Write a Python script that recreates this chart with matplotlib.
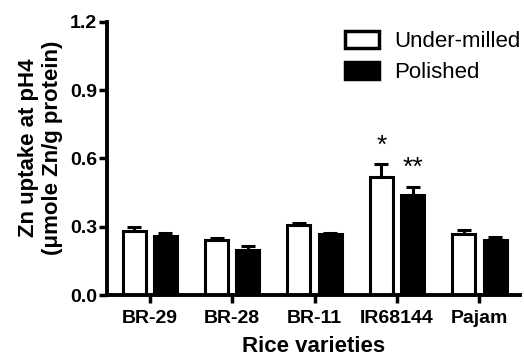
import matplotlib.pyplot as plt
import numpy as np
from matplotlib.patches import Patch

plt.rcParams['font.family'] = ['Liberation Sans', 'DejaVu Sans']

varieties = ["BR-29", "BR-28", "BR-11", "IR68144", "Pajam"]
under_milled = [0.28, 0.24, 0.31, 0.52, 0.27]
under_err = [0.02, 0.01, 0.008, 0.055, 0.018]
polished = [0.26, 0.20, 0.27, 0.44, 0.24]
polished_err = [0.012, 0.015, 0.004, 0.037, 0.013]
stars = ["", "", "", "*", ""]
stars_pol = ["", "", "", "**", ""]

fig = plt.figure(figsize=(5.24, 3.59), dpi=100)
ax = fig.add_axes([0.204, 0.178, 0.788, 0.761])

x = np.arange(len(varieties))
w = 0.28
off = 0.19
ax.bar(x - off, under_milled, w, color="white", edgecolor="black", linewidth=2.2,
       yerr=[np.zeros(5), under_err], error_kw=dict(ecolor="black", elinewidth=2.2, capsize=5, capthick=2.2))
ax.bar(x + off, polished, w, color="black", edgecolor="black", linewidth=2.2,
       yerr=[np.zeros(5), polished_err], error_kw=dict(ecolor="black", elinewidth=2.2, capsize=5, capthick=2.2))

for i in range(len(varieties)):
    if stars[i]:
        ax.text(x[i] - off, under_milled[i] + under_err[i] + 0.03, stars[i],
                ha="center", va="bottom", fontsize=19)
    if stars_pol[i]:
        ax.text(x[i] + off, polished[i] + polished_err[i] + 0.03, stars_pol[i],
                ha="center", va="bottom", fontsize=19)

ax.set_xlim(-0.52, 4.49)
ax.set_ylim(0, 1.2)
ax.set_yticks([0.0, 0.3, 0.6, 0.9, 1.2])
ax.set_yticklabels(["0.0", "0.3", "0.6", "0.9", "1.2"], fontweight="bold", fontsize=14)
ax.set_xticks(x)
ax.set_xticklabels(varieties, fontweight="bold", fontsize=14)
ax.tick_params(axis="both", width=2.5, length=6, direction="out", pad=1)
ax.tick_params(axis="x", pad=5)

for s in ["top", "right"]:
    ax.spines[s].set_visible(False)
for s in ["left", "bottom"]:
    ax.spines[s].set_linewidth(2.8)

ax.set_xlabel("Rice varieties", fontweight="bold", fontsize=16, labelpad=6)
ax.set_ylabel("Zn uptake at pH4\n(μmole Zn/g protein)", fontweight="bold", fontsize=16,
              linespacing=1.15)
ax.yaxis.set_label_coords(-0.107, 0.538)

handles = [Patch(facecolor="white", edgecolor="black", linewidth=2.5),
           Patch(facecolor="black", edgecolor="black", linewidth=2.5)]
ax.legend(handles, ["Under-milled", "Polished"], loc="upper right", bbox_to_anchor=(1.05, 1.04),
          frameon=False, fontsize=16, handlelength=1.5, handleheight=0.8,
          handletextpad=0.7, labelspacing=0.45)

fig.savefig("out.png", dpi=100)
